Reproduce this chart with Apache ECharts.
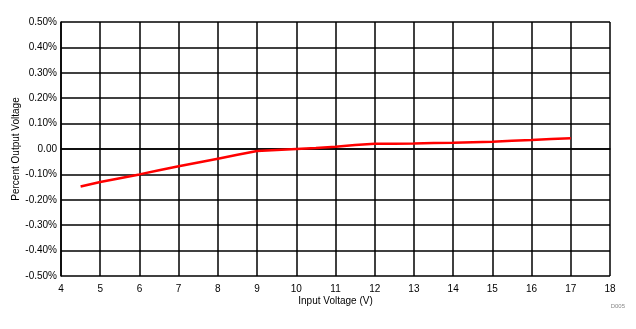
<!DOCTYPE html>
<html>
<head>
<meta charset="utf-8">
<script src="https://cdn.jsdelivr.net/npm/echarts@6/dist/echarts.min.js"></script>
<style>
  html, body { margin: 0; padding: 0; background: #fff; }
  #chart { width: 636px; height: 329px; }
</style>
</head>
<body>
<div id="chart"></div>
<script>
// Input voltage (V) and the resulting percent change in output voltage
const inputVoltage = [4.5, 5, 5.5, 6, 6.5, 7, 7.5, 8, 8.5, 9, 9.5, 10, 10.5, 11, 11.5, 12, 12.5, 13, 13.5, 14, 14.5, 15, 15.5, 16, 16.5, 17];
const percentOutput = [-0.148, -0.130, -0.115, -0.100, -0.084, -0.068, -0.053, -0.038, -0.023, -0.008, -0.004, 0.000, 0.004, 0.009, 0.016, 0.021, 0.021, 0.022, 0.024, 0.025, 0.027, 0.029, 0.032, 0.035, 0.039, 0.042];

const xTicks = [4, 5, 6, 7, 8, 9, 10, 11, 12, 13, 14, 15, 16, 17, 18];
const yTicks = [-0.5, -0.4, -0.3, -0.2, -0.1, 0, 0.1, 0.2, 0.3, 0.4, 0.5];

const font = 'Liberation Sans, Arial, sans-serif';
const chart = echarts.init(document.getElementById('chart'), null, { renderer: 'canvas' });

chart.setOption({
  animation: false,
  backgroundColor: '#ffffff',
  title: {
    text: 'D005',
    right: 11,
    top: 303,
    padding: 0,
    textStyle: { fontSize: 6, color: '#888', fontWeight: 'normal', fontFamily: font }
  },
  grid: { left: 61, right: 26, top: 22, bottom: 53, containLabel: false, outerBoundsMode: 'none' },
  xAxis: {
    type: 'value',
    min: xTicks[0],
    max: xTicks[xTicks.length - 1],
    interval: 1,
    name: 'Input Voltage (V)',
    nameLocation: 'middle',
    nameGap: 20,
    nameMoveOverlap: false,
    nameTextStyle: { fontSize: 10, color: '#000', fontFamily: font },
    axisLine: { show: true, lineStyle: { color: '#000', width: 1.5 } },
    axisTick: { show: false },
    axisLabel: { fontSize: 10, color: '#000', fontFamily: font, margin: 8 },
    splitLine: { show: true, lineStyle: { color: '#000', width: 1.5 } }
  },
  yAxis: {
    type: 'value',
    min: yTicks[0],
    max: yTicks[yTicks.length - 1],
    interval: 0.1,
    name: 'Percent Output Voltage',
    nameLocation: 'middle',
    nameGap: 40,
    nameMoveOverlap: false,
    nameTextStyle: { fontSize: 10, color: '#000', fontFamily: font },
    axisLine: { show: true, lineStyle: { color: '#000', width: 1.5 } },
    axisTick: { show: false },
    axisLabel: {
      fontSize: 10, color: '#000', fontFamily: font, margin: 4,
      formatter: v => Math.abs(v) < 1e-9 ? '0.00' : v.toFixed(2) + '%'
    },
    splitLine: { show: true, lineStyle: { color: '#000', width: 1.5 } }
  },
  series: [{
    type: 'line',
    data: inputVoltage.map((x, i) => [x, percentOutput[i]]),
    showSymbol: false,
    lineStyle: { color: '#ff0000', width: 2.5 },
    z: 5
  }]
});
</script>
</body>
</html>
